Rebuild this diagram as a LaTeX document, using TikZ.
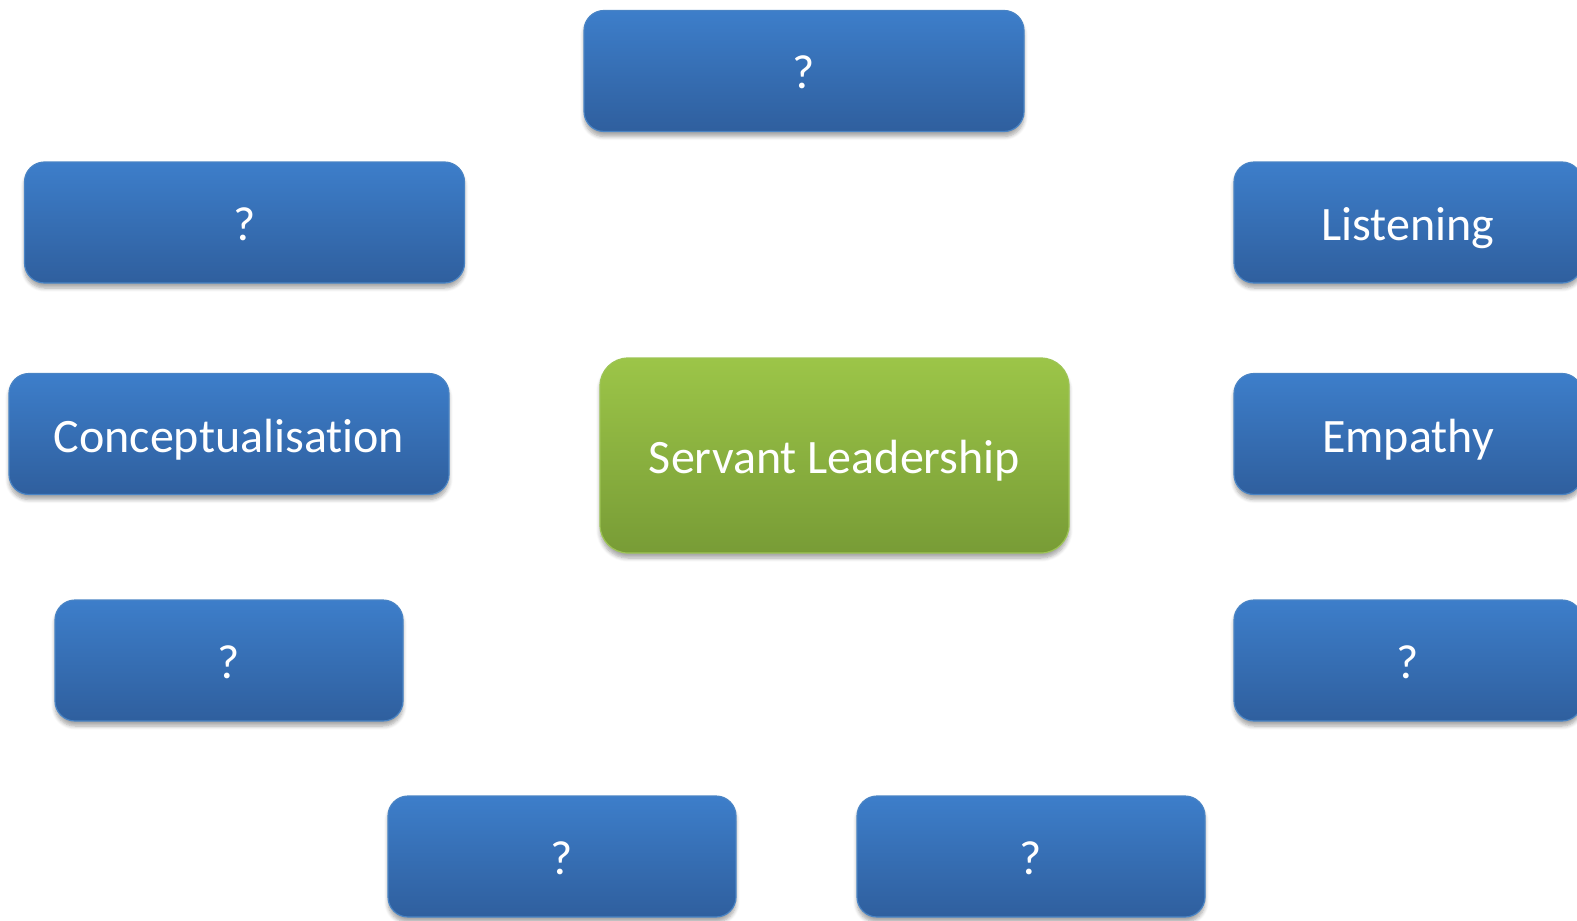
\documentclass[tikz,border=0pt]{standalone}
\usepackage{fontspec}
\setmainfont{Carlito}[Ligatures=NoCommon]
\usetikzlibrary{shadows.blur}
\definecolor{bluetop}{HTML}{3D7ECA}
\definecolor{bluebot}{HTML}{2F5F9E}
\definecolor{blueline}{HTML}{4A84C4}
\definecolor{greentop}{HTML}{9CC548}
\definecolor{greenbot}{HTML}{789C36}
\definecolor{greenline}{HTML}{9DC455}
\begin{document}
\begin{tikzpicture}[x=.5pt, y=-.5pt,
  leaf/.style={rounded corners=10pt, draw=blueline, line width=.6pt,
    top color=bluetop, bottom color=bluebot, text=white,
    font=\fontsize{24}{28}\selectfont, minimum height=60.5pt, inner sep=0pt,
    text height=22pt, text depth=4pt,
    blur shadow={shadow xshift=0pt, shadow yshift=-2.5pt, shadow blur steps=6, shadow opacity=35}},
  hub/.style={leaf, draw=greenline, top color=greentop, bottom color=greenbot,
    rounded corners=14pt, minimum width=234.5pt, minimum height=97.5pt}]
\clip (0,0) rectangle (1577,920);
\node[hub] (servant) at (834.5,455.5) {Servant Leadership};
\node[leaf, minimum width=220pt] (top) at (804,71) {?};
\node[leaf, minimum width=220pt] (upleft) at (244.5,222.5) {?};
\node[leaf, minimum width=220pt] (concept) at (229,434) {Conceptualisation};
\node[leaf, minimum width=174pt] (lowleft) at (229,660.5) {?};
\node[leaf, minimum width=174pt] (botleft) at (562,856.5) {?};
\node[leaf, minimum width=174pt] (botright) at (1031,856.5) {?};
\node[leaf, minimum width=174pt] (listen) at (1408,222.5) {Listening};
\node[leaf, minimum width=174pt] (empathy) at (1408,434) {Empathy};
\node[leaf, minimum width=174pt] (lowright) at (1408,660.5) {?};
\end{tikzpicture}
\end{document}
